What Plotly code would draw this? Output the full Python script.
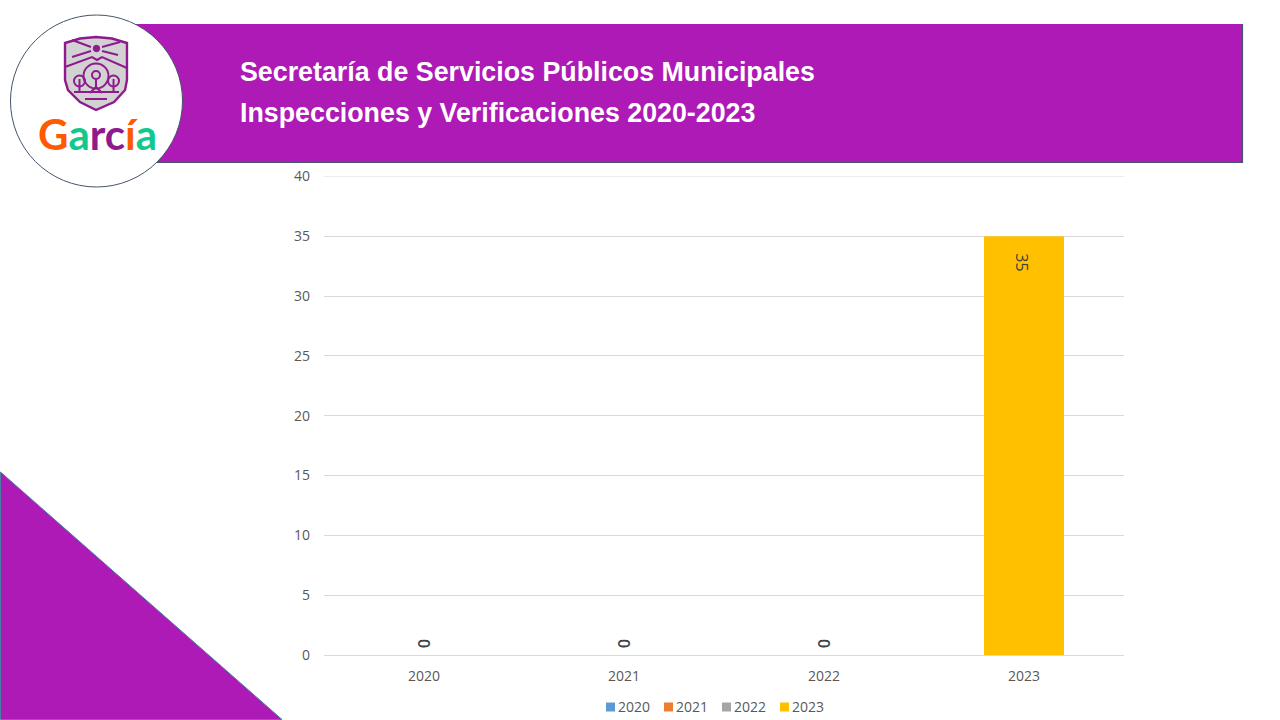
import plotly.graph_objects as go

# chart data
categories = ["2020", "2021", "2022", "2023"]
series_names = ["2020", "2021", "2022", "2023"]
values = [0, 0, 0, 35]
colors = ["#5B9BD5", "#ED7D31", "#A5A5A5", "#FFC000"]
y_ticks = [0, 5, 10, 15, 20, 25, 30, 35, 40]
title_lines = ["Secretaría de Servicios Públicos Municipales",
               "Inspecciones y Verificaciones 2020-2023"]

W = 1280
H = 720
PURPLE = "#AE1AB5"
LOGO = "#8E1A8E"
TICK_FONT = "Open Sans"


# page pixels -> paper coords (margins are zero, so paper is the whole page)
def px(x):
    return x / W


def py(y):
    return 1 - y / H


def path(points, close=False):
    s = "M" + " L".join("%.4f,%.4f" % (px(x), py(y)) for x, y in points)
    return s + (" Z" if close else "")


def poly(points, fill, line, width=1, close=True):
    return dict(type="path", xref="paper", yref="paper", path=path(points, close),
                fillcolor=fill if close else "rgba(0,0,0,0)",
                line=dict(color=line, width=width))


def circle(cx, cy, r, fill, line, width=1):
    return dict(type="circle", xref="paper", yref="paper",
                x0=px(cx - r), x1=px(cx + r), y0=py(cy + r), y1=py(cy - r),
                fillcolor=fill, line=dict(color=line, width=width))


fig = go.Figure()

for i, name in enumerate(series_names):
    # each series only has its own year, the rest stay empty
    y = [None] * len(categories)
    y[i] = values[i]
    fig.add_trace(go.Bar(x=categories, y=y, name=name, width=0.4,
                         marker=dict(color=colors[i], line=dict(width=0)),
                         showlegend=False, hoverinfo="x+y"))

shapes = []
# top gridline, plotly drops the one sitting on the axis edge
shapes.append(dict(type="line", xref="x domain", yref="y", x0=0, x1=1, y0=y_ticks[-1], y1=y_ticks[-1],
                   line=dict(color="#D9D9D9", width=1)))
# banner and corner triangle
shapes.append(dict(type="rect", xref="paper", yref="paper", x0=px(96), x1=px(1243),
                   y0=py(162.5), y1=py(24), fillcolor=PURPLE,
                   line=dict(color=PURPLE, width=0), layer="below"))
shapes.append(poly([(1242.5, 24), (1242.5, 162.5), (150, 162.5)], "rgba(0,0,0,0)", "#44546A", 1.2, close=False))
shapes.append(poly([(0.5, 472), (0.5, 719.5), (282, 719.5)], PURPLE, "#4A7FA8", 1))

# logo
shapes.append(circle(96.5, 101, 86, "white", "#44546A", 1))
shield = [(65, 43), (80, 38.5), (96, 37), (112, 38.5), (127, 43), (127, 80), (125, 90),
          (114, 102), (96, 110), (80, 102), (68, 90), (65, 80)]
shapes.append(poly(shield, "#D2D2D2", LOGO, 2.4))
shapes.append(circle(96.5, 48.5, 3.2, LOGO, LOGO, 1))
for ray in [[(72, 40), (91, 47)], [(72, 57), (91, 51)], [(120, 42), (102, 47)], [(118, 55), (102, 51)]]:
    shapes.append(poly(ray, None, LOGO, 2, close=False))
shapes.append(poly([(65, 67), (92, 57), (97, 60), (102, 57), (127, 68)], None, LOGO, 2, close=False))
shapes.append(circle(96, 76, 12.5, "rgba(0,0,0,0)", LOGO, 2))
shapes.append(circle(96, 75, 4, "rgba(0,0,0,0)", LOGO, 2))
shapes.append(circle(79.5, 81, 5.5, "rgba(0,0,0,0)", LOGO, 2))
shapes.append(circle(113.5, 81, 5.5, "rgba(0,0,0,0)", LOGO, 2))
for seg in [[(96, 79), (96, 88)], [(90, 93), (96, 87), (102, 93)], [(79.5, 79), (79.5, 92)],
            [(113.5, 79), (113.5, 92)], [(74, 92), (119, 92)], [(85, 99), (107, 99)]]:
    shapes.append(poly(seg, None, LOGO, 2, close=False))

annotations = []
# title
for line, y0 in zip(title_lines, [72.5, 112.5]):
    annotations.append(dict(text="<b>%s</b>" % line, xref="paper", yref="paper", x=px(238), y=py(y0),
                            xanchor="left", yanchor="middle", showarrow=False,
                            font=dict(family="Liberation Sans", size=26.8, color="white")))
# logo wordmark
logo_word = [("G", "#FF5A00"), ("a", "#12C98D"), ("r", "#8E1A8E"), ("c", "#8E1A8E"), ("í", "#FF5A00"), ("a", "#12C98D")]
annotations.append(dict(text="".join("<span style='color:%s'>%s</span>" % (c, t) for t, c in logo_word),
                        xref="paper", yref="paper", x=px(97), y=py(133.5), xanchor="center", yanchor="middle",
                        showarrow=False, font=dict(family="Lato", size=42, weight="bold")))

# data labels, rotated like the original (x is the category position)
for i, cat in enumerate(categories):
    annotations.append(dict(x=i, y=values[i], text=str(values[i]), textangle=90, showarrow=False,
                            yshift=12 if values[i] == 0 else -26, xshift=0 if values[i] == 0 else -2,
                            font=dict(family=TICK_FONT, size=16, color="#404040",
                                      weight=600 if values[i] == 0 else 400)))

# legend row
legend_x = [605, 663, 721, 779]
for name, c, x0 in zip(series_names, colors, legend_x):
    shapes.append(dict(type="rect", xref="paper", yref="paper", x0=px(x0 + 1), x1=px(x0 + 10),
                       y0=py(711.5), y1=py(702.5), fillcolor=c, line=dict(width=0)))
    annotations.append(dict(text=name, xref="paper", yref="paper", x=px(x0 + 11), y=py(706.5),
                            xanchor="left", yanchor="middle", showarrow=False,
                            font=dict(family=TICK_FONT, size=14, color="#595959")))

fig.update_layout(
    width=W, height=H, margin=dict(l=0, r=0, t=0, b=0), paper_bgcolor="white", plot_bgcolor="white",
    barmode="overlay", shapes=shapes, annotations=annotations, showlegend=False,
    xaxis=dict(domain=[px(324), px(1124)], type="category", categoryorder="array", categoryarray=categories,
               range=[-0.5, 3.5], automargin=False,
               showline=True, linecolor="#D9D9D9", showgrid=False, ticks="", ticklabelstandoff=8,
               tickfont=dict(family=TICK_FONT, size=14, color="#595959")),
    yaxis=dict(domain=[py(655), py(176.5)], range=[0, 40], tickvals=y_ticks, showgrid=True, automargin=False,
               gridcolor="#D9D9D9", gridwidth=1, zeroline=False, ticks="", ticklabelstandoff=13,
               tickfont=dict(family=TICK_FONT, size=14, color="#595959")),
)

# the default page body has an 8px margin, drop it so the figure fills the window
fig.write_html("out.html", config=dict(displayModeBar=False),
               post_script="document.body.style.margin='0';document.documentElement.style.overflow='hidden';")
